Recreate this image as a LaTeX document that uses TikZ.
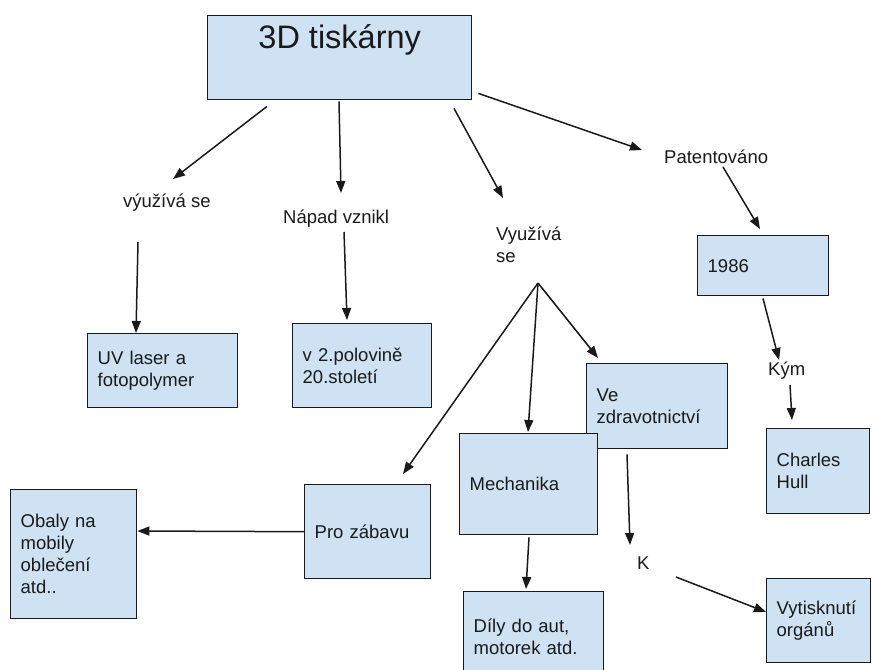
\documentclass[tikz,border=0pt]{standalone}
\usepackage{fontspec}
\setmainfont{Liberation Sans}
\usetikzlibrary{arrows.meta}
\definecolor{boxfill}{HTML}{CFE2F3}
\definecolor{ink}{HTML}{1A1A1A}
\hyphenpenalty=10000
\exhyphenpenalty=10000
\begin{document}
\begin{tikzpicture}[x=1pt,y=-1pt,
  every node/.style={font=\fontsize{18.5}{22}\selectfont, text=ink},
  box/.style={draw=ink, line width=1.4pt, fill=boxfill, anchor=north west,
    align=left, inner xsep=10pt, inner ysep=0pt},
  word/.style={anchor=base west, inner sep=0pt, align=left},
  link/.style={draw=ink, line width=1.5pt, -{Triangle[length=12pt,width=9pt]}}
]
\useasboundingbox (0,0) rectangle (872,669);

% main topic
\node[box, align=center, inner sep=0pt, minimum width=264pt,
      text height=33pt, text depth=51pt,
      font=\fontsize{32.5}{38}\selectfont] (top) at (207,15) {3D tiskárny};

% boxes
\node[box, text width=130pt, minimum height=74pt] (uv) at (87,333) {UV laser a\\fotopolymer};
\node[box, text width=119pt, minimum height=84pt] (v2) at (292,323) {v 2.polovině\\20.století};
\node[box, text width=111pt, minimum height=60pt] (d1986) at (697,235) {1986};
\node[box, text width=121pt, minimum height=85pt] (ve) at (586,363) {Ve\\zdravotnictví};
\node[box, text width=118pt, minimum height=101pt] (mech) at (459,433) {Mechanika};
\node[box, text width=83pt, minimum height=85pt] (charles) at (766,428) {Charles\\Hull};
\node[box, text width=84pt, minimum height=84pt] (vyt) at (766,578) {Vytisknutí\\orgánů};
\node[box, text width=120pt, minimum height=90pt] (dily) at (463,591) {Díly do aut,\\motorek atd.};
\node[box, text width=106pt, minimum height=94pt] (pro) at (304,484) {Pro zábavu};
\node[box, text width=106pt, minimum height=129pt] (obaly) at (10,489) {Obaly na\\mobily\\oblečení\\atd..};

% link words (multi-line words sit on their last baseline)
\node[word] (vyuz1) at (123,207) {výužívá se};
\node[word] (napad) at (283,223) {Nápad vznikl};
\node[word] (vyuz2) at (496,262) {Využívá\\se};
\node[word] (patent) at (664,163) {Patentováno};
\node[word] (kym) at (768,375) {Kým};
\node[word] (k) at (637,569) {K};

\coordinate (hub) at ([xshift=42pt,yshift=-21pt]vyuz2.base west);

% connectors
\draw[link] ([xshift=60pt,yshift=-6pt]top.south west) -- ([xshift=50pt,yshift=28pt]vyuz1.base west);
\draw[link] ([xshift=132pt,yshift=-1pt]top.south west) -- ([xshift=58pt,yshift=30pt]napad.base west);
\draw[link] ([xshift=247pt,yshift=-8pt]top.south west) -- ([xshift=7pt,yshift=64pt]vyuz2.base west);
\draw[link] ([xshift=6pt,yshift=7pt]top.south east) -- ([xshift=-22pt,yshift=13pt]patent.base west);
\draw[link] ([xshift=15pt,yshift=-35pt]vyuz1.base west) -- ([xshift=49pt]uv.north west);
\draw[link] ([xshift=61pt,yshift=-9pt]napad.base west) -- ([xshift=55pt,yshift=3pt]v2.north west);
\draw[link] (hub) -- ([xshift=99pt,yshift=10pt]pro.north west);
\draw[link] (hub) -- ([xshift=69pt,yshift=1pt]mech.north west);
\draw[link] (hub) -- ([xshift=12pt,yshift=5pt]ve.north west);
\draw[link] ([xshift=59pt,yshift=-4pt]patent.base west) -- ([xshift=63pt,yshift=6pt]d1986.north west);
\draw[link] ([xshift=66pt,yshift=-2pt]d1986.south west) -- ([xshift=11pt,yshift=15pt]kym.base west);
\draw[link] ([xshift=22pt,yshift=-10pt]kym.base west) -- ([xshift=26pt,yshift=8pt]charles.north west);
\draw[link] ([xshift=41pt,yshift=-5pt]ve.south west) -- ([xshift=-7pt,yshift=24pt]k.base west);
\draw[link] ([xshift=39pt,yshift=-8pt]k.base west) -- ([yshift=-34pt]vyt.north west);
\draw[link] (pro.west) -- ([yshift=-42pt]obaly.north east);
\draw[link] ([xshift=70pt,yshift=-2pt]mech.south west) -- ([xshift=63pt,yshift=2pt]dily.north west);
\end{tikzpicture}
\end{document}
